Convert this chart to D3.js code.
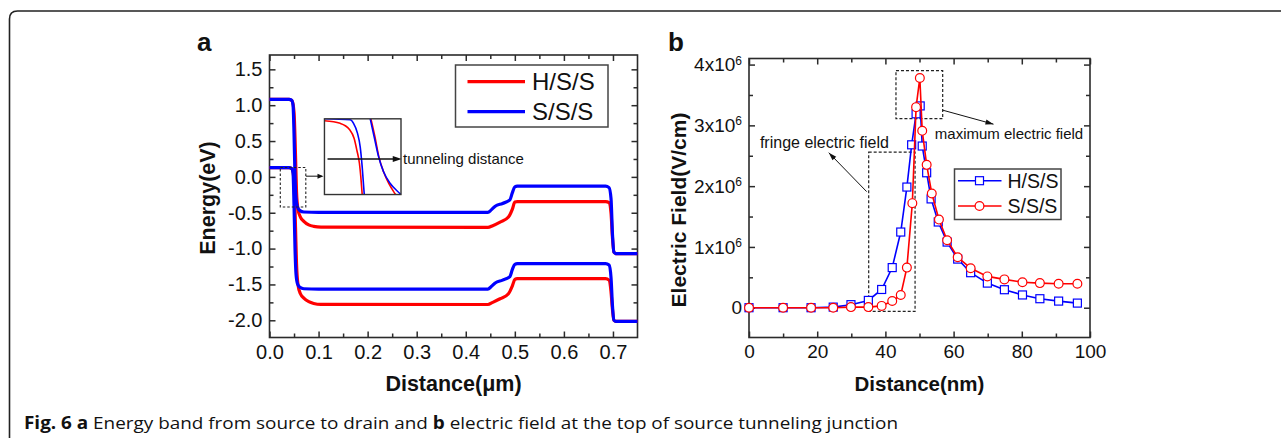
<!DOCTYPE html>
<html>
<head>
<meta charset="utf-8">
<script src="https://cdn.jsdelivr.net/npm/d3@7"></script>
<style>
  html, body { margin: 0; padding: 0; background: #fff; }
  svg { display: block; }
  text { font-family: "Liberation Sans", Arial, sans-serif; fill: #111; }
</style>
</head>
<body>
<svg id="fig" width="1281" height="438"></svg>
<script>
// ---- panel a : energy bands (x in um, y in eV) ----
const hssCB = [[0,1.08],[0.04,1.08],[0.046,1.06],[0.05,0.9],[0.053,0.3],[0.055,-0.2],[0.058,-0.45],[0.063,-0.56],[0.07,-0.62],[0.08,-0.67],[0.09,-0.69],[0.105,-0.7],[0.445,-0.705],[0.455,-0.68],[0.47,-0.63],[0.487,-0.56],[0.495,-0.45],[0.5,-0.35],[0.505,-0.345],[0.685,-0.345],[0.692,-0.36],[0.696,-0.5],[0.699,-0.85],[0.702,-1.05],[0.706,-1.07],[0.75,-1.07]];
const hssVB = [[0,0.13],[0.04,0.13],[0.046,0.11],[0.05,-0.05],[0.053,-0.7],[0.055,-1.2],[0.058,-1.5],[0.063,-1.63],[0.07,-1.69],[0.08,-1.74],[0.09,-1.765],[0.105,-1.778],[0.445,-1.78],[0.455,-1.75],[0.47,-1.7],[0.487,-1.63],[0.495,-1.52],[0.5,-1.43],[0.505,-1.42],[0.685,-1.42],[0.692,-1.44],[0.696,-1.6],[0.699,-1.85],[0.702,-2.0],[0.706,-2.015],[0.75,-2.015]];
const sssCB = [[0,1.08],[0.04,1.08],[0.045,1.07],[0.048,1.0],[0.05,0.6],[0.052,0.0],[0.054,-0.3],[0.057,-0.42],[0.062,-0.47],[0.07,-0.49],[0.1,-0.495],[0.445,-0.495],[0.452,-0.46],[0.46,-0.41],[0.475,-0.37],[0.49,-0.32],[0.495,-0.22],[0.5,-0.14],[0.505,-0.13],[0.685,-0.13],[0.692,-0.15],[0.696,-0.3],[0.699,-0.8],[0.702,-1.05],[0.706,-1.07],[0.75,-1.07]];
const sssVB = [[0,0.13],[0.04,0.13],[0.045,0.12],[0.048,0.05],[0.05,-0.4],[0.052,-1.0],[0.054,-1.35],[0.057,-1.49],[0.062,-1.54],[0.07,-1.56],[0.1,-1.565],[0.445,-1.565],[0.452,-1.53],[0.46,-1.48],[0.475,-1.44],[0.49,-1.39],[0.495,-1.29],[0.5,-1.22],[0.505,-1.21],[0.685,-1.21],[0.692,-1.23],[0.696,-1.4],[0.699,-1.8],[0.702,-2.0],[0.706,-2.015],[0.75,-2.015]];
const xTicksA = [0, 0.1, 0.2, 0.3, 0.4, 0.5, 0.6, 0.7];
const yTicksA = [-2.0, -1.5, -1.0, -0.5, 0.0, 0.5, 1.0, 1.5];

// zoomed inset, normalised 0..1 inside the inset box
const insetRed1 = [[0,0.975],[0.205,0.94],[0.327,0.86],[0.388,0.74],[0.423,0.587],[0.457,0.41],[0.475,0.233],[0.493,0]];
const insetBlue1 = [[0,1],[0.336,0.987],[0.38,0.94],[0.432,0.807],[0.467,0.63],[0.493,0.365],[0.52,0]];
const insetRed2 = [[0.607,1],[0.66,0.76],[0.71,0.5],[0.772,0.3],[0.84,0.146],[0.906,0.035],[0.93,0]];
const insetBlue2 = [[0.598,1],[0.65,0.76],[0.707,0.5],[0.772,0.3],[0.86,0.146],[0.947,0.05],[1,0]];

// ---- panel b : electric field (x in nm, y in 1e6 V/cm) ----
const hssX = [0,10,18.2,24.7,29.9,35,38.9,42,44.5,46.3,47.7,49,50.2,50.8,52.1,53.4,55.5,58.1,61.2,65,69.9,74.9,80.2,85.3,90.8,96.3];
const hssE = [0,0,0,0.01,0.05,0.12,0.30,0.66,1.245,1.985,2.68,3.19,3.32,2.66,2.22,1.79,1.41,1.08,0.80,0.576,0.405,0.296,0.21,0.148,0.109,0.076];
const sssX = [0,10,18.2,24.7,29.9,35,38.9,42,44.5,46.3,47.9,49,50.1,50.8,52.1,53.6,55.7,58.1,61.2,65,69.9,74.9,80.2,85.3,90.8,96.3];
const sssE = [0,0,0,0,0.01,0.01,0.03,0.11,0.21,0.66,1.72,3.30,3.78,2.91,2.35,1.88,1.45,1.11,0.83,0.65,0.515,0.466,0.42,0.405,0.395,0.395];
const xTicksB = [0, 20, 40, 60, 80, 100];
const yTicksB = [0, 1, 2, 3, 4];

const RED = "#ff0000", BLUE = "#0000ff", AX = "#2b2b2b";
const svg = d3.select("#fig");

// figure frame with the rounded corner
svg.append("path")
  .attr("d", "M9.5,438 V19 Q9.5,11 17.5,11 H1281")
  .attr("fill", "none").attr("stroke", "#222").attr("stroke-width", 1.6);

function frame(g, x, y, major, minor, xMaj, xMin, yMaj, yMin, xFmt, yFmt, fs) {
  const [x0, x1] = x.range(), [y0, y1] = y.range();
  const ax = (a, vals, size, fmt) => a.tickValues(vals).tickSizeInner(size).tickSizeOuter(0).tickPadding(7).tickFormat(fmt);
  const add = (axis, tr) => {
    const s = g.append("g").attr("transform", tr).call(axis);
    s.select(".domain").remove();
    s.selectAll("line").attr("stroke", AX).attr("stroke-width", 1.5);
    s.selectAll("text").attr("font-size", fs).attr("font-family", "Liberation Sans, Arial").attr("fill", "#111");
    return s;
  };
  add(ax(d3.axisBottom(x), xMaj, -major, xFmt), `translate(0,${y0})`);
  add(ax(d3.axisBottom(x), xMin, -minor, ""), `translate(0,${y0})`);
  add(ax(d3.axisTop(x), xMaj, -major, ""), `translate(0,${y1})`);
  add(ax(d3.axisTop(x), xMin, -minor, ""), `translate(0,${y1})`);
  const yl = add(ax(d3.axisLeft(y), yMaj, -major, yFmt), `translate(${x0},0)`);
  add(ax(d3.axisLeft(y), yMin, -minor, ""), `translate(${x0},0)`);
  add(ax(d3.axisRight(y), yMaj, -major, ""), `translate(${x1},0)`);
  add(ax(d3.axisRight(y), yMin, -minor, ""), `translate(${x1},0)`);
  g.append("rect").attr("x", x0).attr("y", y1).attr("width", x1 - x0).attr("height", y0 - y1)
    .attr("fill", "none").attr("stroke", AX).attr("stroke-width", 1.6);
  return yl;
}

function arrowHead(g, x1, y1, x2, y2, len, wid) {
  const a = Math.atan2(y2 - y1, x2 - x1);
  const p = [[x2, y2],
    [x2 - len * Math.cos(a) + wid * Math.sin(a), y2 - len * Math.sin(a) - wid * Math.cos(a)],
    [x2 - len * Math.cos(a) - wid * Math.sin(a), y2 - len * Math.sin(a) + wid * Math.cos(a)]];
  g.append("path").attr("d", d3.line()(p) + "Z").attr("fill", "#111");
}

// ================= panel a =================
const xA = d3.scaleLinear().domain([0, 0.75]).range([269.5, 637.5]);
const yA = d3.scaleLinear().domain([-2.24, 1.7]).range([337.5, 55]);
const gA = svg.append("g");

frame(gA, xA, yA, 6, 4,
  xTicksA, d3.range(0.05, 0.75, 0.1),
  yTicksA, d3.range(-1.75, 1.7, 0.5),
  d3.format(".1f"), d => d3.format(".1f")(d).replace("−", "-"), 20);

const lineA = d3.line().x(d => xA(d[0])).y(d => yA(d[1])).curve(d3.curveMonotoneX);
[[hssCB, RED], [hssVB, RED], [sssCB, BLUE], [sssVB, BLUE]].forEach(([data, c]) => {
  gA.append("path").attr("d", lineA(data)).attr("fill", "none")
    .attr("stroke", c).attr("stroke-width", 3.2).attr("stroke-linejoin", "round");
});

// dashed zoom box and pointer to inset
gA.append("rect")
  .attr("x", xA(0.022)).attr("y", yA(0.13))
  .attr("width", xA(0.074) - xA(0.022)).attr("height", yA(-0.42) - yA(0.13))
  .attr("fill", "none").attr("stroke", "#222").attr("stroke-width", 1.1).attr("stroke-dasharray", "2.5,2");
gA.append("line").attr("x1", xA(0.074)).attr("x2", xA(0.106)).attr("y1", yA(0.01)).attr("y2", yA(0.01))
  .attr("stroke", "#111").attr("stroke-width", 1);
arrowHead(gA, xA(0.074), yA(0.01), xA(0.11), yA(0.01), 6, 2.5);

// inset
const ix = d3.scaleLinear().domain([0, 1]).range([xA(0.112), xA(0.268)]);
const iy = d3.scaleLinear().domain([0, 1]).range([yA(-0.246), yA(0.81)]);
svg.append("clipPath").attr("id", "insetClip").append("rect")
  .attr("x", ix(0)).attr("y", iy(1)).attr("width", ix(1) - ix(0)).attr("height", iy(0) - iy(1));
const gI = gA.append("g");
gI.append("rect").attr("x", ix(0)).attr("y", iy(1)).attr("width", ix(1) - ix(0)).attr("height", iy(0) - iy(1))
  .attr("fill", "#fff");
const lineI = d3.line().x(d => ix(d[0])).y(d => iy(d[1])).curve(d3.curveMonotoneX);
const gIc = gI.append("g").attr("clip-path", "url(#insetClip)");
[[insetRed1, RED], [insetRed2, RED], [insetBlue1, BLUE], [insetBlue2, BLUE]].forEach(([data, c]) => {
  gIc.append("path").attr("d", lineI(data)).attr("fill", "none").attr("stroke", c).attr("stroke-width", 1.6);
});
gI.append("line").attr("x1", ix(0.04)).attr("x2", ix(0.95)).attr("y1", iy(0.47)).attr("y2", iy(0.47))
  .attr("stroke", "#111").attr("stroke-width", 1.6);
arrowHead(gI, ix(0.5), iy(0.47), ix(1.01), iy(0.47), 9, 3);
gI.append("rect").attr("x", ix(0)).attr("y", iy(1)).attr("width", ix(1) - ix(0)).attr("height", iy(0) - iy(1))
  .attr("fill", "none").attr("stroke", "#333").attr("stroke-width", 1.4);
gA.append("text").attr("x", ix(1) + 2).attr("y", iy(0.47)).attr("dy", "0.35em")
  .attr("font-size", 15).text("tunneling distance");

// legend a
const legA = gA.append("g");
legA.append("rect").attr("x", 455.5).attr("y", 65).attr("width", 152.5).attr("height", 62)
  .attr("fill", "#fff").attr("stroke", "#444").attr("stroke-width", 1.5);
[["H/S/S", RED, 81.7], ["S/S/S", BLUE, 111.7]].forEach(([t, c, yy]) => {
  legA.append("line").attr("x1", 467.5).attr("x2", 525).attr("y1", yy).attr("y2", yy)
    .attr("stroke", c).attr("stroke-width", 3.2);
  legA.append("text").attr("x", 532).attr("y", yy).attr("dy", "0.36em").attr("font-size", 24).text(t);
});

gA.append("text").attr("x", (269.5 + 637.5) / 2).attr("y", 391).attr("text-anchor", "middle")
  .attr("font-size", 21.5).attr("font-weight", "bold").text("Distance(μm)");
gA.append("text").attr("transform", "translate(207,198) rotate(-90)").attr("text-anchor", "middle")
  .attr("dy", "0.35em").attr("font-size", 21.5).attr("font-weight", "bold").text("Energy(eV)");
gA.append("text").attr("x", 197).attr("y", 51).attr("font-size", 26).attr("font-weight", "bold").text("a");

// ================= panel b =================
const xB = d3.scaleLinear().domain([0, 100]).range([749, 1090]);
const yB = d3.scaleLinear().domain([-0.49, 4.1]).range([337.5, 58.5]);
const gB = svg.append("g");

const ylB = frame(gB, xB, yB, 6, 4,
  xTicksB, d3.range(10, 100, 20),
  yTicksB, d3.range(0.5, 4.1, 1),
  d3.format("d"), "", 19);
// y labels with 10^6 superscripts
ylB.selectAll(".tick text").each(function(d) {
  const t = d3.select(this).text("");
  if (d === 0) { t.text("0"); return; }
  t.append("tspan").text(d + "x10");
  t.append("tspan").attr("dy", "-0.55em").attr("font-size", 12).text("6");
});

const hss = hssX.map((x, i) => [x, hssE[i]]);
const sss = sssX.map((x, i) => [x, sssE[i]]);
const lineB = d3.line().x(d => xB(d[0])).y(d => yB(d[1]));

// dashed annotation boxes
[[43.1, 56.8, 3.9, 3.11], [35.1, 48.7, 2.56, -0.06]].forEach(([a, b, c, d]) => {
  gB.append("rect").attr("x", xB(a)).attr("y", yB(c)).attr("width", xB(b) - xB(a)).attr("height", yB(d) - yB(c))
    .attr("fill", "none").attr("stroke", "#222").attr("stroke-width", 1.2).attr("stroke-dasharray", "3,2");
});

gB.append("path").attr("d", lineB(hss)).attr("fill", "none").attr("stroke", BLUE).attr("stroke-width", 1.6);
gB.selectAll(".sq").data(hss).join("rect").attr("class", "sq")
  .attr("x", d => xB(d[0]) - 4).attr("y", d => yB(d[1]) - 4).attr("width", 8).attr("height", 8)
  .attr("fill", "#fff").attr("stroke", BLUE).attr("stroke-width", 1.2);
gB.append("path").attr("d", lineB(sss)).attr("fill", "none").attr("stroke", RED).attr("stroke-width", 1.6);
gB.selectAll(".ci").data(sss).join("circle").attr("class", "ci")
  .attr("cx", d => xB(d[0])).attr("cy", d => yB(d[1])).attr("r", 4.4)
  .attr("fill", "#fff").attr("stroke", RED).attr("stroke-width", 1.2);

// annotation arrows and texts
[[56.8, 3.25, 71.7, 3.02], [34.5, 1.91, 23.4, 2.55]].forEach(([a, b, c, d]) => {
  gB.append("line").attr("x1", xB(a)).attr("y1", yB(b)).attr("x2", xB(c)).attr("y2", yB(d))
    .attr("stroke", "#111").attr("stroke-width", 1);
  arrowHead(gB, xB(a), yB(b), xB(c), yB(d), 8, 2.6);
});
gB.append("text").attr("x", xB(54.5)).attr("y", yB(2.77)).attr("font-size", 15).text("maximum electric field");
gB.append("text").attr("x", xB(3.2)).attr("y", yB(2.62)).attr("font-size", 16).text("fringe electric field");

// legend b
const legB = gB.append("g");
legB.append("rect").attr("x", 954.5).attr("y", 169).attr("width", 106.5).attr("height", 50.5)
  .attr("fill", "#fff").attr("stroke", "#444").attr("stroke-width", 1.5);
legB.append("line").attr("x1", 958).attr("x2", 1001.5).attr("y1", 180.7).attr("y2", 180.7).attr("stroke", BLUE).attr("stroke-width", 1.6);
legB.append("rect").attr("x", 979.5 - 4).attr("y", 180.7 - 4).attr("width", 8).attr("height", 8)
  .attr("fill", "#fff").attr("stroke", BLUE).attr("stroke-width", 1.2);
legB.append("line").attr("x1", 958).attr("x2", 1001.5).attr("y1", 206).attr("y2", 206).attr("stroke", RED).attr("stroke-width", 1.6);
legB.append("circle").attr("cx", 979.5).attr("cy", 206).attr("r", 4.4)
  .attr("fill", "#fff").attr("stroke", RED).attr("stroke-width", 1.2);
legB.append("text").attr("x", 1007.5).attr("y", 180.7).attr("dy", "0.36em").attr("font-size", 19.5).text("H/S/S");
legB.append("text").attr("x", 1007.5).attr("y", 206).attr("dy", "0.36em").attr("font-size", 19.5).text("S/S/S");

gB.append("text").attr("x", (749 + 1090) / 2).attr("y", 391).attr("text-anchor", "middle")
  .attr("font-size", 20.5).attr("font-weight", "bold").text("Distance(nm)");
gB.append("text").attr("transform", "translate(679,210) rotate(-90)").attr("text-anchor", "middle")
  .attr("dy", "0.35em").attr("font-size", 21).attr("font-weight", "bold").text("Electric Field(V/cm)");
gB.append("text").attr("x", 668).attr("y", 51).attr("font-size", 26).attr("font-weight", "bold").text("b");

// caption
const cap = svg.append("text").attr("x", 24).attr("y", 429).attr("font-size", 17)
  .style("font-family", "'Open Sans', 'Noto Sans', sans-serif")
  .attr("textLength", 874).attr("lengthAdjust", "spacingAndGlyphs");
[["Fig. 6 a", true], [" Energy band from source to drain and ", false], ["b", true],
 [" electric field at the top of source tunneling junction", false]].forEach(([t, b]) => {
  cap.append("tspan").attr("font-weight", b ? "bold" : "normal").text(t);
});
</script>
</body>
</html>
